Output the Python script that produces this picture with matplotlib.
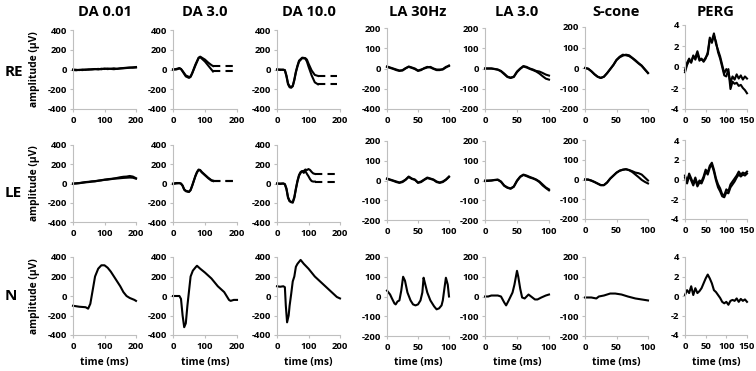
import matplotlib
matplotlib.use("Agg")
import matplotlib.pyplot as plt

plt.rcParams['font.family'] = ['Open Sans', 'DejaVu Sans']
plt.rcParams['axes.unicode_minus'] = False

# ---------------- data ----------------
col_titles = ["DA 0.01", "DA 3.0", "DA 10.0", "LA 30Hz", "LA 3.0", "S-cone", "PERG"]
row_labels = ["RE", "LE", "N"]
y_label = "amplitude (\u00b5V)"
x_label = "time (ms)"

da_xticks = [0, 100, 200]
la_xticks = [0, 50, 100]
perg_xticks = [0, 50, 100, 150]
da_yticks = [-400, -200, 0, 200, 400]
la_yticks = [-200, -100, 0, 100, 200]
perg_yticks = [-4, -2, 0, 2, 4]
la30_re_ytick_labels = ["-400", "-200", "0", "100", "200"]

# time bases
t_da001 = [0, 10, 20, 30, 40, 50, 60, 70, 80, 90, 100, 110, 120, 130, 140, 150, 160, 170, 180, 190, 200]
t_la = [0, 5, 10, 15, 20, 25, 30, 35, 40, 45, 50, 55, 60, 65, 70, 75, 80, 85, 90, 95, 100]
t_perg = [0, 5, 10, 15, 20, 25, 30, 35, 40, 45, 50, 55, 60, 65, 70, 75, 80, 85, 90, 95, 100,
          105, 110, 115, 120, 125, 130, 135, 140, 145, 150]

# ---- RE ----
re_da001_a = [-5, -8, -3, -6, 0, -2, 3, 5, 0, 8, 5, 10, 6, 3, 8, 10, 12, 15, 18, 22, 25]
re_da001_b = [0, -3, -6, 0, -4, 2, 0, 3, 6, 2, 10, 4, 8, 12, 6, 12, 15, 18, 20, 18, 20]

t_re_da3 = [0, 10, 20, 25, 30, 40, 50, 55, 60, 70, 80, 85, 90, 100, 110, 120, 125]
re_da3_a = [0, 5, 15, 5, -15, -60, -75, -70, -35, 50, 120, 130, 120, 100, 70, 45, 35]
re_da3_b = [0, 0, 10, 5, -20, -70, -85, -75, -40, 40, 115, 125, 110, 80, 40, 0, -20]
re_da3_dash = [35, -20]

t_re_da10 = [0, 10, 20, 25, 30, 35, 40, 45, 50, 55, 60, 65, 70, 80, 90, 95, 100, 110, 120, 130]
re_da10_a = [0, 0, -5, -5, -60, -140, -170, -175, -165, -100, -20, 40, 90, 120, 115, 100, 60, -10, -55, -65]
re_da10_b = [0, -5, 0, -10, -70, -150, -180, -185, -170, -110, -30, 30, 80, 115, 110, 80, 30, -60, -130, -150]
re_da10_dash = [-65, -150]

re_la30_a = [10, 5, 0, -5, -10, -10, 0, 10, 5, 0, -10, -5, 0, 5, 8, 0, -5, -5, -5, 5, 15]
re_la30_b = [8, 3, -2, -8, -12, -8, 2, 8, 3, -3, -12, -8, 2, 8, 5, -2, -8, -8, -3, 8, 12]

re_la3_a = [0, 0, 0, -2, -5, -12, -25, -40, -45, -40, -15, 0, 12, 8, 0, -5, -12, -15, -22, -30, -35]
re_la3_b = [0, 0, 0, -3, -6, -14, -28, -42, -47, -42, -18, -2, 10, 5, -2, -8, -15, -25, -38, -50, -55]

re_scone_a = [0, -3, -15, -30, -42, -48, -42, -25, -5, 15, 40, 55, 65, 62, 58, 48, 35, 22, 10, -8, -25]
re_scone_b = [0, -4, -16, -31, -43, -49, -43, -26, -6, 14, 38, 52, 60, 65, 62, 50, 38, 24, 12, -6, -24]

re_perg_a = [-0.5, 0.2, 0.6, 0.5, 1.0, 0.9, 1.5, 0.8, 0.7, 0.6, 0.9, 1.2, 2.6, 2.5, 3.2, 2.2, 1.6, 1.0,
             0.2, -0.6, -0.2, -0.5, -1.5, -0.9, -1.2, -0.7, -1.1, -0.8, -1.2, -0.9, -1.1]
re_perg_b = [-0.3, 0.4, 0.8, 0.4, 1.1, 0.7, 1.3, 0.6, 0.8, 0.5, 0.8, 1.4, 2.8, 2.3, 3.0, 2.4, 1.4, 0.8,
             0.0, -0.8, -0.9, -0.2, -2.1, -1.4, -1.6, -1.5, -1.8, -1.7, -2.0, -2.2, -2.5]

# ---- LE ----
le_da001_a = [0, 2, 5, 10, 15, 18, 22, 25, 30, 35, 40, 45, 48, 52, 58, 65, 70, 72, 78, 72, 55]
le_da001_b = [-3, 0, 3, 8, 12, 15, 20, 22, 28, 32, 38, 40, 45, 50, 52, 55, 58, 60, 62, 60, 50]

t_le_da3 = [0, 10, 20, 25, 30, 35, 40, 45, 50, 55, 60, 65, 70, 75, 80, 85, 90, 95, 100, 110, 120, 125]
le_da3_a = [0, 5, 5, 0, -20, -60, -75, -80, -85, -65, -20, 30, 80, 120, 145, 140, 120, 105, 90, 60, 35, 30]
le_da3_b = [-5, 0, 3, -3, -25, -65, -80, -85, -88, -70, -25, 25, 75, 115, 140, 135, 115, 100, 85, 55, 30, 25]
le_da3_dash = [30, 25]

t_le_da10 = [0, 10, 20, 25, 30, 35, 40, 45, 50, 55, 60, 65, 70, 75, 80, 85, 90, 95, 100, 105, 110, 115, 120]
le_da10_a = [0, 0, 0, -10, -60, -150, -185, -190, -200, -150, -60, 20, 80, 110, 125, 130, 145, 140, 150, 140, 120, 105, 100]
le_da10_b = [0, -5, 0, -5, -50, -140, -180, -195, -190, -140, -50, 30, 90, 120, 130, 110, 130, 100, 75, 45, 25, 20, 20]
le_da10_dash = [100, 20]

le_la30_a = [10, 5, 0, -5, -10, -5, 5, 20, 10, 5, -10, -5, 5, 15, 10, 5, -5, -10, -5, 5, 20]
le_la30_b = [8, 3, -2, -8, -12, -8, 3, 18, 8, 3, -12, -8, 3, 12, 8, 3, -8, -12, -8, 3, 18]

le_la3_a = [0, 0, 0, 3, 5, -5, -25, -35, -40, -30, 0, 20, 30, 25, 18, 12, 5, -5, -20, -35, -45]
le_la3_b = [-3, -2, 0, 2, 3, -7, -27, -37, -42, -32, -3, 18, 28, 22, 15, 10, 3, -8, -25, -38, -50]

le_scone_a = [0, 0, -5, -12, -20, -28, -28, -15, 5, 20, 35, 45, 50, 52, 48, 42, 35, 32, 25, 10, -5]
le_scone_b = [0, -1, -6, -13, -21, -29, -29, -16, 4, 19, 34, 44, 49, 52, 47, 38, 25, 12, -2, -12, -20]

le_perg_a = [0.4, -0.2, 0.6, 0.1, -0.4, 0.2, -0.5, -0.1, -0.2, 0.3, 1.0, 0.7, 1.4, 1.7, 1.0, 0.1, -0.5,
             -0.9, -1.5, -1.6, -1.0, -1.2, -0.5, -0.2, 0.1, 0.4, 0.8, 0.5, 0.7, 0.6, 0.8]
le_perg_b = [0.2, -0.4, 0.4, -0.1, -0.6, 0.0, -0.7, -0.3, -0.4, 0.1, 0.8, 0.5, 1.2, 1.5, 0.8, -0.1, -0.8,
             -1.2, -1.7, -1.8, -1.3, -1.4, -0.8, -0.5, -0.2, 0.2, 0.5, 0.3, 0.5, 0.4, 0.6]

# ---- N ----
t_n_da001 = [0, 20, 40, 48, 55, 62, 70, 80, 90, 100, 110, 120, 130, 140, 150, 160, 170, 180, 195, 200]
n_da001 = [-100, -110, -115, -130, -80, 50, 200, 280, 315, 315, 290, 250, 200, 150, 100, 40, 0, -20, -40, -50]

t_n_da3 = [0, 10, 20, 25, 30, 35, 40, 45, 50, 55, 62, 72, 75, 85, 100, 120, 140, 160, 175, 180, 190, 200]
n_da3 = [0, 0, 0, -30, -200, -320, -280, -100, 50, 200, 260, 300, 310, 280, 240, 180, 100, 40, -40, -50, -40, -40]

t_n_da10 = [0, 10, 20, 25, 28, 32, 37, 40, 45, 50, 55, 60, 65, 75, 85, 100, 120, 140, 160, 180, 190, 200]
n_da10 = [100, 95, 100, 90, -100, -270, -200, -100, 20, 150, 200, 300, 330, 370, 330, 280, 200, 140, 80, 20, -10, -25]

t_n_la30 = [0, 5, 8, 12, 14, 17, 20, 23, 26, 29, 33, 38, 42, 46, 50, 54, 57, 59, 61, 65, 70, 76, 80, 84, 88, 90, 93, 95, 98, 100]
n_la30 = [30, 10, -10, -35, -40, -25, -20, 30, 100, 80, 20, -20, -40, -45, -40, -20, 20, 95, 70, 20, -20, -50, -65, -60, -45, -20, 50, 95, 60, 0]

t_n_la3 = [0, 5, 10, 15, 20, 25, 30, 33, 37, 40, 43, 46, 50, 52, 55, 58, 62, 68, 72, 78, 82, 88, 95, 100]
n_la3 = [0, 0, 5, 5, 5, 0, -30, -45, -20, 0, 20, 60, 130, 100, 40, -5, -10, 10, 0, -15, -15, -5, 5, 10]

t_n_scone = [0, 10, 18, 22, 30, 40, 48, 58, 68, 80, 90, 100]
n_scone = [-5, -5, -10, 0, 5, 15, 15, 10, 0, -10, -15, -20]

n_perg = [0.1, 0.6, 0.3, 1.0, 0.1, 0.8, 0.3, 0.5, 0.8, 1.3, 1.8, 2.2, 1.8, 1.3, 0.6, 0.4, 0.1, -0.2,
          -0.6, -0.75, -0.6, -0.9, -0.5, -0.4, -0.5, -0.25, -0.6, -0.3, -0.5, -0.35, -0.6]

dash_end = 190

# ---------------- layout (pixels) ----------------
W, H = 756, 371
col_x = [(73, 136), (173, 237), (277, 340), (387, 449), (485, 549), (585, 648), (685, 747)]
row_y = [
    [(30, 109), (30, 109), (30, 109), (28, 109), (28, 109), (27, 109), (25, 109)],
    [(145, 222), (145, 222), (145, 222), (141, 220), (141, 220), (140, 219), (140, 219)],
    [(257, 335), (257, 335), (257, 335), (257, 336), (257, 336), (257, 336), (257, 335)],
]

fig = plt.figure(figsize=(W / 100, H / 100), dpi=100)
fig.patch.set_facecolor("white")

panels = [
    [
        [(t_da001, re_da001_a), (t_da001, re_da001_b)],
        [(t_re_da3, re_da3_a), (t_re_da3, re_da3_b)],
        [(t_re_da10, re_da10_a), (t_re_da10, re_da10_b)],
        [(t_la, re_la30_a), (t_la, re_la30_b)],
        [(t_la, re_la3_a), (t_la, re_la3_b)],
        [(t_la, re_scone_a), (t_la, re_scone_b)],
        [(t_perg, re_perg_a), (t_perg, re_perg_b)],
    ],
    [
        [(t_da001, le_da001_a), (t_da001, le_da001_b)],
        [(t_le_da3, le_da3_a), (t_le_da3, le_da3_b)],
        [(t_le_da10, le_da10_a), (t_le_da10, le_da10_b)],
        [(t_la, le_la30_a), (t_la, le_la30_b)],
        [(t_la, le_la3_a), (t_la, le_la3_b)],
        [(t_la, le_scone_a), (t_la, le_scone_b)],
        [(t_perg, le_perg_a), (t_perg, le_perg_b)],
    ],
    [
        [(t_n_da001, n_da001)],
        [(t_n_da3, n_da3)],
        [(t_n_da10, n_da10)],
        [(t_n_la30, n_la30)],
        [(t_n_la3, n_la3)],
        [(t_n_scone, n_scone)],
        [(t_perg, n_perg)],
    ],
]

dashes = {
    (0, 1): (t_re_da3[-1], re_da3_dash),
    (0, 2): (t_re_da10[-1], re_da10_dash),
    (1, 1): (t_le_da3[-1], le_da3_dash),
    (1, 2): (t_le_da10[-1], le_da10_dash),
}

spine_col = "#bfbfbf"
tick_font = dict(size=6.8, weight="bold")

for r in range(3):
    for c in range(7):
        x0, x1 = col_x[c]
        yt, yb = row_y[r][c]
        ax = fig.add_axes([x0 / W, 1 - yb / H, (x1 - x0) / W, (yb - yt) / H])
        for sp in ["top", "right"]:
            ax.spines[sp].set_visible(False)
        for sp in ["left", "bottom"]:
            ax.spines[sp].set_color(spine_col)
            ax.spines[sp].set_linewidth(0.8)
        ax.tick_params(axis="both", colors=spine_col, labelcolor="black", length=2.5,
                       width=0.8, pad=1.5)

        if c < 3:
            ax.set_xlim(0, 200); ax.set_xticks(da_xticks)
            ax.set_ylim(-400, 400); ax.set_yticks(da_yticks)
        elif c < 6:
            ax.set_xlim(0, 100); ax.set_xticks(la_xticks)
            ax.set_ylim(-200, 200); ax.set_yticks(la_yticks)
        else:
            ax.set_xlim(0, 150); ax.set_xticks(perg_xticks)
            ax.set_ylim(-4, 4); ax.set_yticks(perg_yticks)
        ax.set_xticklabels([str(v) for v in ax.get_xticks().astype(int)], fontdict=tick_font)
        if r == 0 and c == 3:
            ax.set_yticklabels(la30_re_ytick_labels, fontdict=tick_font)
        else:
            ax.set_yticklabels([str(v) for v in ax.get_yticks().astype(int)], fontdict=tick_font)
        ax.tick_params(axis="x", pad=2.5)

        for tt, yy in panels[r][c]:
            ax.plot(tt, yy, color="black", lw=1.5, solid_joinstyle="round", clip_on=False)
        if (r, c) in dashes:
            tstart, levels = dashes[(r, c)]
            for lv in levels:
                ax.plot([tstart, dash_end], [lv, lv], color="black", lw=1.5,
                        dashes=(3.5, 2.5))

        if r == 0:
            fig.text((x0 + x1) / 2 / W, 1 - 12 / H, col_titles[c], ha="center", va="center",
                     fontsize=10.5, weight="bold")
        if r == 2:
            fig.text((x0 + x1) / 2 / W, 1 - 362 / H, x_label, ha="center", va="center",
                     fontsize=7.4, weight="bold")
        if c == 0:
            fig.text(35 / W, 1 - (yt + yb) / 2 / H, y_label, ha="center", va="center",
                     rotation=90, fontsize=7.4, weight="bold")

row_label_pos = [(14, 72), (13, 193), (11, 296)]
for lbl, (px, py) in zip(row_labels, row_label_pos):
    fig.text(px / W, 1 - py / H, lbl, ha="center", va="center", fontsize=11, weight="bold")

fig.savefig("out.png", dpi=100, facecolor="white")
